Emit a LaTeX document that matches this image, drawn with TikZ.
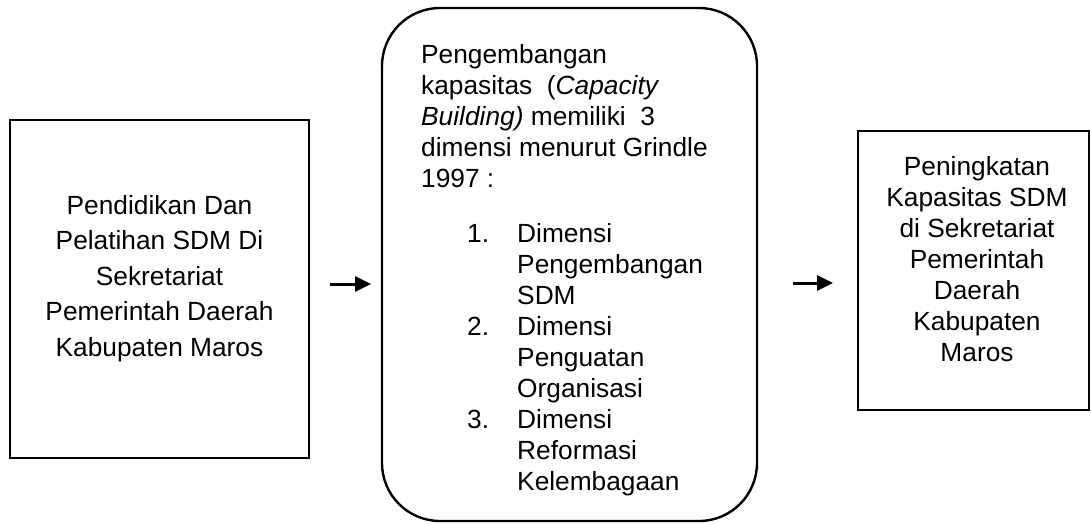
\documentclass[tikz,border=0pt]{standalone}
\usepackage{fontspec}
\setmainfont{Liberation Sans}
\usetikzlibrary{arrows.meta}
\begin{document}
\begin{tikzpicture}[x=1pt,y=-1pt,
  box/.style={draw=black, line width=2.4pt, inner sep=0pt, fill=white},
  txt/.style={font=\fontsize{26.3pt}{31pt}\selectfont, inner sep=0pt},
  ctxt/.style={txt, anchor=base},
  ltxt/.style={txt, anchor=base west},
  conn/.style={line width=3pt, -{Triangle[length=16pt,width=15pt]}}]
\useasboundingbox (0,0) rectangle (1091,523);
% boxes
\node[box, minimum width=299pt, minimum height=338pt] (left) at (159.5,289) {};
\node[box, rounded corners=58pt, minimum width=375pt, minimum height=513pt] (mid) at (569.5,264.5) {};
\node[box, minimum width=231pt, minimum height=279pt] (right) at (973.5,270.5) {};
% left text
\node[ctxt] (l1) at (159.5,214) {Pendidikan Dan};
\node[ctxt] (l2) at (159.5,249.5) {Pelatihan SDM Di};
\node[ctxt] (l3) at (159.5,285) {Sekretariat};
\node[ctxt] (l4) at (159.5,320.5) {Pemerintah Daerah};
\node[ctxt] (l5) at (159.5,356) {Kabupaten Maros};
% middle text
\node[ltxt] (m1) at (421,63) {Pengembangan};
\node[ltxt] (m2) at (421,94) {kapasitas~ (\textit{Capacity}};
\node[ltxt] (m3) at (421,125) {\textit{Building)} memiliki~ 3};
\node[ltxt] (m4) at (421,156) {dimensi menurut Grindle};
\node[ltxt] (m5) at (421,187) {1997 :};
\node[ltxt] (n1) at (467,242) {1.};
\node[ltxt] (n2) at (467,335) {2.};
\node[ltxt] (n3) at (467,428) {3.};
\node[ltxt] (i1) at (517,242) {Dimensi};
\node[ltxt] (i2) at (517,273) {Pengembangan};
\node[ltxt] (i3) at (517,304) {SDM};
\node[ltxt] (i4) at (517,335) {Dimensi};
\node[ltxt] (i5) at (517,366) {Penguatan};
\node[ltxt] (i6) at (517,397) {Organisasi};
\node[ltxt] (i7) at (517,428) {Dimensi};
\node[ltxt] (i8) at (517,459) {Reformasi};
\node[ltxt] (i9) at (517,490) {Kelembagaan};
% right text
\node[ctxt] (r1) at (977,175) {Peningkatan};
\node[ctxt] (r2) at (977,206) {Kapasitas SDM};
\node[ctxt] (r3) at (977,237) {di Sekretariat};
\node[ctxt] (r4) at (977,268) {Pemerintah};
\node[ctxt] (r5) at (977,299) {Daerah};
\node[ctxt] (r6) at (977,330) {Kabupaten};
\node[ctxt] (r7) at (977,361) {Maros};
% connectors
\coordinate (a1s) at (330,284);
\coordinate (a1e) at (371,284);
\coordinate (a2s) at (793,283);
\coordinate (a2e) at (833,283);
\draw[conn] (a1s) -- (a1e);
\draw[conn] (a2s) -- (a2e);
\end{tikzpicture}
\end{document}
